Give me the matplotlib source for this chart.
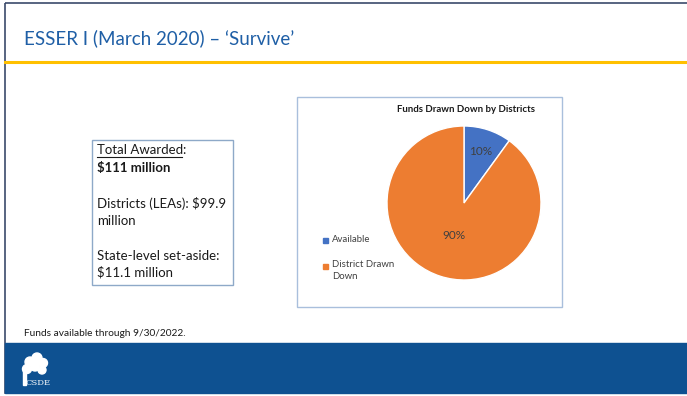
import matplotlib
matplotlib.use("Agg")
import matplotlib.pyplot as plt
import numpy as np
from matplotlib.patches import Rectangle, Circle

plt.rcParams['font.family'] = ['Lato', 'DejaVu Sans']

# data
labels = ['Available', 'District Drawn\nDown']
shares = [10, 90]
colors = ['#4472C4', '#ED7D31']
title = "ESSER I (March 2020) \u2013 \u2018Survive\u2019"
chart_title = 'Funds Drawn Down by Districts'
note = 'Funds available through 9/30/2022.'

W, H = 687, 396
fig = plt.figure(figsize=(W / 100, H / 100), dpi=100)
bg = fig.add_axes([0, 0, 1, 1])
bg.set_xlim(0, W)
bg.set_ylim(H, 0)
bg.axis('off')

# slide frame
bg.add_patch(Rectangle((5, 3), W, 390, fill=False, ec='#3B4A6B', lw=1.2))
bg.plot([5, W], [62, 62], color='#FFC000', lw=2.2)
bg.text(24, 38, title, color='#1F5FA6', fontsize=13.5, va='center', ha='left')

# text box
txt = '#1a1a1a'
bg.add_patch(Rectangle((92, 140), 141, 145, fill=False, ec='#8EA9C8', lw=1))
bg.text(97, 150, 'Total Awarded', fontsize=9.5, va='center', color=txt)
bg.text(97 + 85, 150, ':', fontsize=9.5, va='center', color=txt)
bg.plot([97, 182], [157, 157], color=txt, lw=0.8)
bg.text(97, 168, '$111 million', fontsize=9.5, fontweight='bold', va='center', color=txt)
bg.text(97, 203, 'Districts (LEAs): $99.9', fontsize=9.5, va='center', color=txt)
bg.text(97, 221, 'million', fontsize=9.5, va='center', color=txt)
bg.text(97, 256, 'State-level set-aside:', fontsize=9.5, va='center', color=txt)
bg.text(97, 272, '$11.1 million', fontsize=9.5, va='center', color=txt)

# chart box
bg.add_patch(Rectangle((297, 97), 265, 210, fill=False, ec='#A9BFDC', lw=1))
bg.text(466, 109, chart_title, fontsize=6.9, fontweight='bold', ha='center', va='center', color=txt)

# legend
legend_y = [240, 260]
for lab, col, y in zip(labels, colors, legend_y):
    bg.add_patch(Rectangle((323, 237.5 if y == 240 else 263.5), 5, 5, color=col))
    bg.text(332, y, lab, fontsize=6.9, va='center' if '\n' not in lab else 'top',
            color='#404040', linespacing=1.45)

bg.text(24, 333, note, fontsize=7.3, va='center', color=txt)

# footer band
bg.add_patch(Rectangle((5, 343), W, 50, color='#0E5191'))
for cx, cy, r in [(30, 362, 5), (37, 358, 5), (43, 363, 4.5), (27, 369, 4.5), (35, 366, 5), (42, 370, 4)]:
    bg.add_patch(Circle((cx, cy), r, color='white'))
bg.add_patch(Rectangle((23, 370), 2.5, 15, color='white'))
bg.text(26, 383, 'CSDE', fontsize=6, family='DejaVu Serif', color='white', va='center', ha='left')

# pie
cx, cy, r = 464, 203, 77
pax = fig.add_axes([(cx - r) / W, (H - cy - r) / H, 2 * r / W, 2 * r / H])
wedges, _, autotexts = pax.pie(shares, colors=colors, startangle=90, counterclock=False,
                               autopct='%d%%', wedgeprops=dict(edgecolor='white', linewidth=1),
                               textprops=dict(fontsize=8.5, color='#404040'))
for w, t, d in zip(wedges, autotexts, [0.71, 0.44]):
    ang = np.deg2rad((w.theta1 + w.theta2) / 2)
    t.set_position((d * np.cos(ang), d * np.sin(ang)))
pax.set_xlim(-1, 1)
pax.set_ylim(-1, 1)
pax.set_aspect('equal')

fig.savefig('out.png', dpi=100)
